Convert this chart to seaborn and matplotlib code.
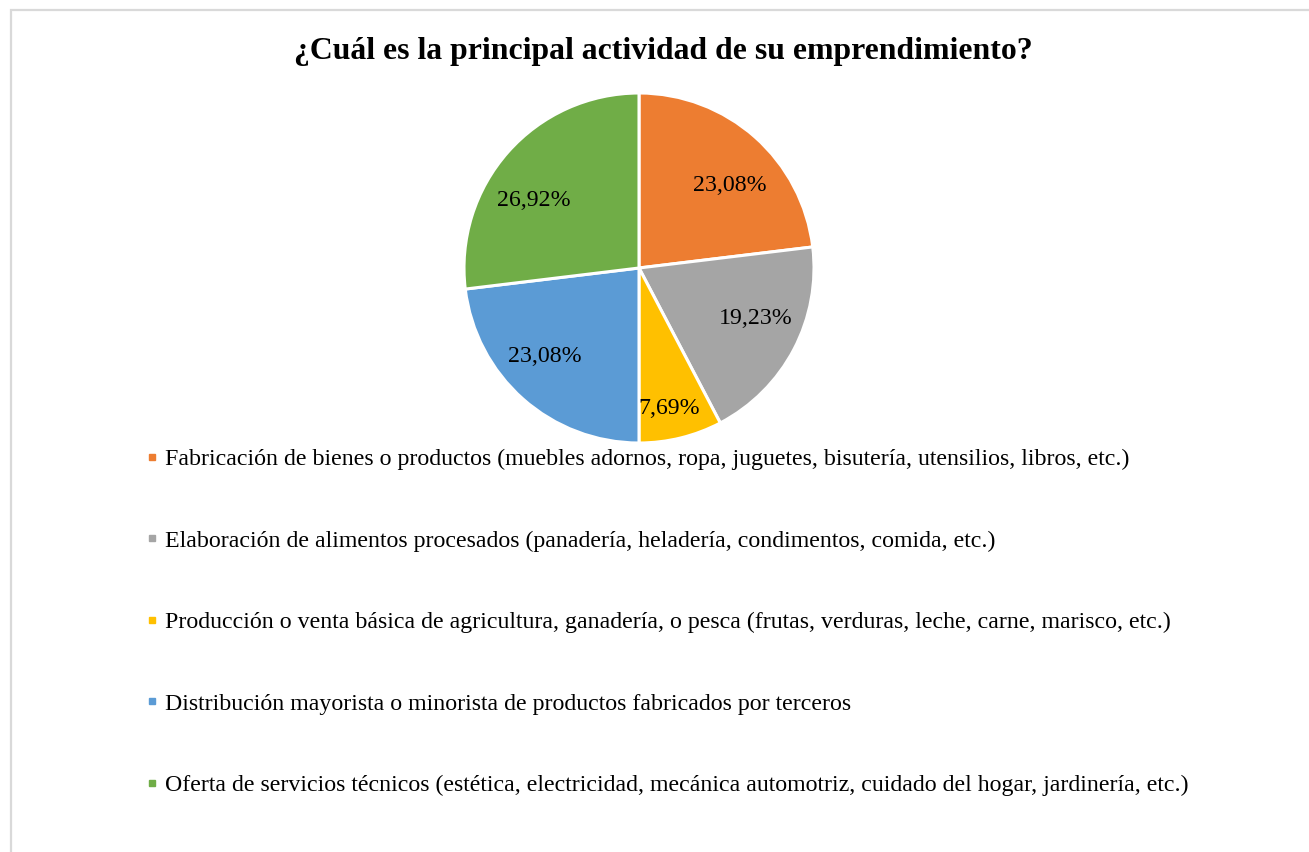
import matplotlib
matplotlib.use("Agg")
import matplotlib.pyplot as plt
import matplotlib.transforms as mtransforms
import seaborn as sns
import numpy as np
from matplotlib.lines import Line2D
from matplotlib.patches import Rectangle

sns.set_theme(style="white")
plt.rcParams["font.family"] = ["Liberation Serif", "DejaVu Serif"]
plt.rcParams["text.color"] = "black"

title = "¿Cuál es la principal actividad de su emprendimiento?"
categories = [
    "Fabricación de bienes o productos (muebles adornos, ropa, juguetes, bisutería, utensilios, libros, etc.)",
    "Elaboración de alimentos procesados (panadería, heladería, condimentos, comida, etc.)",
    "Producción o venta básica de agricultura, ganadería, o pesca (frutas, verduras, leche, carne, marisco, etc.)",
    "Distribución mayorista o minorista de productos fabricados por terceros",
    "Oferta de servicios técnicos (estética, electricidad, mecánica automotriz, cuidado del hogar, jardinería, etc.)",
]
percentages = [23.08, 19.23, 7.69, 23.08, 26.92]
colors = sns.color_palette(["#ED7D31", "#A5A5A5", "#FFC000", "#5B9BD5", "#70AD47"])

# label placement (Excel "best fit" style): radius fraction and angle nudge in degrees
label_r = [0.71, 0.72, 0.81, 0.73, 0.72]
label_dang = [-5.5, 5.2, -1.6, -6.0, 7.8]

W, H = 1309, 852
fig = plt.figure(figsize=(W / 100, H / 100), dpi=100)
fig.patch.set_facecolor("white")

# light frame like the office chart area
fig.add_artist(Rectangle((11 / W, -0.1), 1.2, 1 - 10 / H + 0.1, transform=fig.transFigure,
                         fill=False, edgecolor="#d9d9d9", linewidth=1.6))

r_px = 175
cx, cy = 639, 268
ax = fig.add_axes([(cx - r_px) / W, (H - cy - r_px) / H, 2 * r_px / W, 2 * r_px / H])

wedges, texts, autotexts = ax.pie(
    percentages, colors=colors, startangle=90, counterclock=False,
    autopct=lambda p: f"{p:.2f}%".replace(".", ","), pctdistance=0.72,
    wedgeprops={"edgecolor": "white", "linewidth": 2.2},
    textprops={"fontsize": 17.2, "color": "black"},
)
shift = mtransforms.offset_copy(ax.transData, fig=fig, x=0, y=-2, units="dots")
for wd, t, r, da in zip(wedges, autotexts, label_r, label_dang):
    ang = np.deg2rad((wd.theta1 + wd.theta2) / 2 + da)
    t.set_position((r * np.cos(ang), r * np.sin(ang)))
    t.set_transform(shift)
    wd.set_clip_on(False)
ax.set_xlim(-1, 1)
ax.set_ylim(-1, 1)
ax.set_aspect("equal")
ax.axis("off")

fig.text(663 / W, 1 - 51 / H, title, ha="center", va="center",
         fontsize=22.9, fontweight="bold", color="black")

handles = [Line2D([], [], linestyle="none", marker="s", markersize=5,
                  markerfacecolor=c, markeredgecolor=c) for c in colors]
fig.legend(handles, categories, loc="upper left", bbox_to_anchor=(136 / W, 1 - 439 / H),
           frameon=False, fontsize=17.2, handlelength=0.5, handletextpad=0.3,
           labelspacing=2.5, borderaxespad=0, labelcolor="black")

fig.savefig("out.png", dpi=100, facecolor="white")
